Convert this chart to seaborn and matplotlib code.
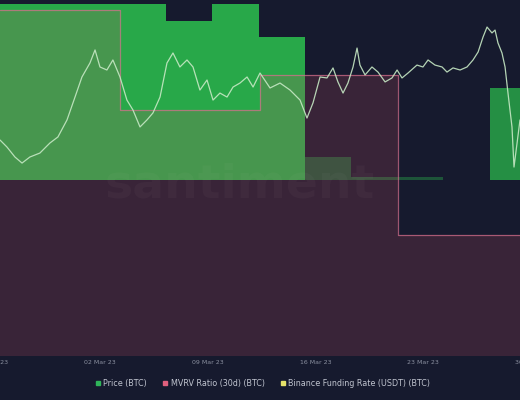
import numpy as np
import pandas as pd
import matplotlib
matplotlib.use("Agg")
import matplotlib.pyplot as plt
from matplotlib.lines import Line2D
import seaborn as sns

# x axis: days relative to 02 Mar 23 00:00
tick_days = [-7, 0, 7, 14, 21, 28]
tick_labels = ["23 Feb 23", "02 Mar 23", "09 Mar 23", "16 Mar 23", "23 Mar 23", "30 Mar 23"]

# Price (BTC), USD
price_day = [-6.49, -6.04, -5.52, -5.06, -4.55, -3.90, -3.25, -2.73, -2.14, -1.62,
             -1.17, -0.65, -0.32, 0.00, 0.45, 0.84, 1.30, 1.75, 2.14, 2.60,
             3.05, 3.44, 3.90, 4.35, 4.74, 5.19, 5.65, 6.04, 6.49, 6.95,
             7.34, 7.79, 8.25, 8.64, 9.09, 9.55, 9.94, 10.39, 11.04, 11.69,
             12.34, 12.99, 13.44, 13.83, 14.29, 14.74, 15.13, 15.45, 15.78, 16.10,
             16.43, 16.69, 16.88, 17.21, 17.66, 18.05, 18.51, 18.96, 19.29, 19.61,
             20.00, 20.58, 20.97, 21.30, 21.75, 22.21, 22.53, 22.92, 23.38, 23.83,
             24.22, 24.55, 24.87, 25.13, 25.45, 25.65, 25.84, 26.10, 26.30, 26.49,
             26.75, 26.88, 27.08, 27.27]
price_usd = [21300, 20860, 20230, 19850, 20230, 20480, 21110, 21490, 22560, 24000,
             25260, 26140, 26960, 25890, 25700, 26330, 25260, 23810, 23190, 22120,
             22560, 23000, 24000, 26140, 26770, 25890, 26330, 25890, 24440, 25070,
             23810, 24250, 24000, 24630, 24880, 25260, 24630, 25510, 24570, 24880,
             24440, 23810, 22680, 23630, 25260, 25200, 25830, 24950, 24250, 24880,
             25890, 27080, 26010, 25390, 25890, 25570, 24950, 25200, 25700, 25200,
             25510, 26010, 25890, 26330, 26010, 25890, 25570, 25830, 25700, 25890,
             26330, 26830, 27770, 28400, 28030, 28210, 27400, 26770, 25890, 24250,
             22120, 19600, 21110, 22560]

# MVRV Ratio (30d), %, step values starting at these days
mvrv_day = [-6.49, 1.30, 10.39, 19.35]
mvrv_pct = [12.0, 4.0, 6.8, -6.0]

# Binance Funding Rate (USDT), 3-day bars starting at these days
funding_day = [-7.7, -4.7, -1.7, 1.3, 4.3, 7.3, 10.3, 13.3, 16.3, 19.3, 22.3, 25.3]
funding_rate = [0.0100, 0.0100, 0.0100, 0.0100, 0.0090, 0.0100, 0.0081, 0.0013,
                0.00017, 0.00017, 0.0, 0.0052]

x_min, x_max = -6.49, 27.27
bg = "#161a2e"

sns.set_theme(style="dark")
plt.rcParams["font.family"] = ["DejaVu Sans"]

fig = plt.figure(figsize=(5.2, 4), dpi=100, facecolor=bg)
ax = fig.add_axes([0, 0.11, 1, 0.89])
ax.set_facecolor(bg)

# funding rate bars
bar_alpha = [0.85 if v > 0.002 else 0.35 for v in funding_rate]
bar_alpha[-1] = 0.7
for d, v, a in zip(funding_day, funding_rate, bar_alpha):
    ax.bar(d, v, width=3.0, align="edge", color="#2cc24e", alpha=a, linewidth=0)
ax.set_ylim(-0.00995, 0.0102)

# MVRV step with fill
ax2 = ax.twinx()
step_x = mvrv_day + [x_max]
step_y = mvrv_pct + [mvrv_pct[-1]]
ax2.fill_between(step_x, step_y, -20, step="post", color="#c85064", alpha=0.2, linewidth=0)
ax2.step(step_x, step_y, where="post", color="#d9708f", alpha=0.7, linewidth=0.9)
ax2.set_ylim(-15.68, 12.8)

# price line
ax3 = ax.twinx()
df = pd.DataFrame({"day": price_day, "price": price_usd})
sns.lineplot(data=df, x="day", y="price", ax=ax3, color="#c6e8c4", linewidth=0.9, alpha=0.9)
ax3.set_ylim(30100 - 356 * 62.86, 30100)

for a in (ax, ax2, ax3):
    a.set_xlim(x_min, x_max)
    a.set_yticks([])
    a.set_xticks([])
    a.set_ylabel("")
    a.set_xlabel("")
    a.grid(False)
    for s in a.spines.values():
        s.set_visible(False)

# date labels (edge ones are cut by the figure border, as in the source)
for d, lab in zip(tick_days, tick_labels):
    ax.text(d, -0.01, lab, transform=ax.get_xaxis_transform(), ha="center", va="top",
            fontsize=4.5, color="#8b90a0", clip_on=False)

# watermark
ax.text(0.46, 0.48, "santiment", transform=ax.transAxes, ha="center", va="center",
        fontsize=34, fontweight="bold", color="white", alpha=0.03)

handles = [
    Line2D([], [], marker="s", linestyle="", color="#2fb55a", markersize=3.5),
    Line2D([], [], marker="s", linestyle="", color="#e0607e", markersize=3.5),
    Line2D([], [], marker="s", linestyle="", color="#e6e26a", markersize=3.5),
]
labels = ["Price (BTC)", "MVRV Ratio (30d) (BTC)", "Binance Funding Rate (USDT) (BTC)"]
fig.legend(handles, labels, loc="center", bbox_to_anchor=(0.505, 0.042), ncol=3,
           frameon=False, fontsize=5.8, labelcolor="#c0c4cf", handletextpad=0.25,
           columnspacing=1.9, handlelength=0.8)

fig.savefig("out.png", dpi=100, facecolor=bg)
